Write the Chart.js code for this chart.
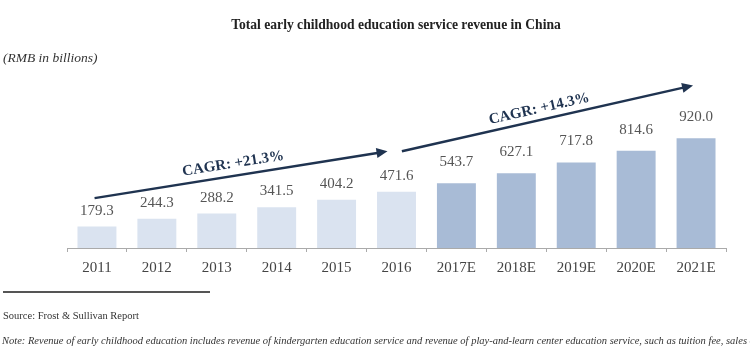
<!DOCTYPE html>
<html>
<head>
<meta charset="utf-8">
<script src="https://cdn.jsdelivr.net/npm/chart.js@4"></script>
<style>
  body { margin: 0; background: #fff; }
  #wrap { position: relative; width: 750px; height: 350px; overflow: hidden; font-family: "Liberation Serif", "DejaVu Serif", serif; }
  #chart { position: absolute; left: 0; top: 0; }
  .txt { position: absolute; white-space: nowrap; color: #222; }
  #title { left: 0; width: 792px; top: 17px; text-align: center; font-weight: bold; font-size: 13.6px; }
  #unit { left: 3px; top: 50px; font-style: italic; font-size: 13.5px; color: #333; }
  #rule { position: absolute; left: 3px; top: 291px; width: 207px; height: 2px; background: #555; }
  #source { left: 3px; top: 310px; font-size: 10.5px; color: #333; }
  #note { left: 2px; top: 335px; font-size: 10.5px; font-style: italic; color: #333; }
</style>
</head>
<body>
<div id="wrap">
  <canvas id="chart" width="750" height="350"></canvas>
  <div class="txt" id="title">Total early childhood education service revenue in China</div>
  <div class="txt" id="unit">(RMB in billions)</div>
  <div id="rule"></div>
  <div class="txt" id="source">Source: Frost &amp; Sullivan Report</div>
  <div class="txt" id="note">Note: Revenue of early childhood education includes revenue of kindergarten education service and revenue of play-and-learn center education service, such as tuition fee, sales of</div>
</div>
<script>
var years = ['2011', '2012', '2013', '2014', '2015', '2016', '2017E', '2018E', '2019E', '2020E', '2021E'];
var revenue = [179.3, 244.3, 288.2, 341.5, 404.2, 471.6, 543.7, 627.1, 717.8, 814.6, 920.0];
var cagrLabels = ['CAGR: +21.3%', 'CAGR: +14.3%'];

var histColor = '#dae3f0';
var estColor = '#a8bbd6';
var barColors = years.map(function(y) { return y.slice(-1) == 'E' ? estColor : histColor; });

// growth arrows, in category index / value units
var arrows = [
  { x0: -0.04, y0: 418, x1: 4.85, y1: 811, text: cagrLabels[0], lift: 12, shift: -6 },
  { x0: 5.09, y0: 811, x1: 9.95, y1: 1363, text: cagrLabels[1], lift: 11, shift: -6 }
];

var labelsPlugin = {
  id: 'valueLabels',
  afterDatasetsDraw: function(chart) {
    var ctx = chart.ctx;
    var meta = chart.getDatasetMeta(0);
    ctx.save();
    ctx.font = '15px "Liberation Serif", serif';
    ctx.fillStyle = '#555';
    ctx.textAlign = 'center';
    ctx.textBaseline = 'middle';
    meta.data.forEach(function(bar, i) {
      var gap = years[i].slice(-1) == 'E' ? 21 : 16;
      ctx.fillText(revenue[i].toFixed(1), bar.x, bar.y - gap);
    });
    ctx.restore();
  }
};

var arrowPlugin = {
  id: 'cagrArrows',
  afterDatasetsDraw: function(chart) {
    var ctx = chart.ctx;
    var xs = chart.scales.x, ys = chart.scales.y;
    ctx.save();
    arrows.forEach(function(a) {
      var x0 = xs.getPixelForValue(a.x0), y0 = ys.getPixelForValue(a.y0);
      var x1 = xs.getPixelForValue(a.x1), y1 = ys.getPixelForValue(a.y1);
      var ang = Math.atan2(y1 - y0, x1 - x0);
      var head = 11;
      ctx.strokeStyle = '#1f3350';
      ctx.fillStyle = '#1f3350';
      ctx.lineWidth = 2.5;
      ctx.beginPath();
      ctx.moveTo(x0, y0);
      ctx.lineTo(x1 - head * 0.8 * Math.cos(ang), y1 - head * 0.8 * Math.sin(ang));
      ctx.stroke();
      ctx.beginPath();
      ctx.moveTo(x1, y1);
      ctx.lineTo(x1 - head * Math.cos(ang) + 5 * Math.sin(ang), y1 - head * Math.sin(ang) - 5 * Math.cos(ang));
      ctx.lineTo(x1 - head * Math.cos(ang) - 5 * Math.sin(ang), y1 - head * Math.sin(ang) + 5 * Math.cos(ang));
      ctx.closePath();
      ctx.fill();

      var mx = (x0 + x1) / 2 + a.lift * Math.sin(ang) + a.shift * Math.cos(ang);
      var my = (y0 + y1) / 2 - a.lift * Math.cos(ang) + a.shift * Math.sin(ang);
      ctx.translate(mx, my);
      ctx.rotate(ang);
      ctx.font = 'bold 15px "Liberation Serif", serif';
      ctx.fillStyle = '#1f3350';
      ctx.textAlign = 'center';
      ctx.textBaseline = 'middle';
      ctx.fillText(a.text, 0, 0);
      ctx.setTransform(1, 0, 0, 1, 0, 0);
    });
    ctx.restore();
  }
};

new Chart(document.getElementById('chart').getContext('2d'), {
  type: 'bar',
  data: {
    labels: years,
    datasets: [{
      data: revenue,
      backgroundColor: barColors,
      barPercentage: 0.65,
      categoryPercentage: 1.0
    }]
  },
  options: {
    responsive: false,
    animation: false,
    layout: { padding: { left: 67, right: 24, top: 81, bottom: 66 } },
    plugins: { legend: { display: false }, tooltip: { enabled: false } },
    scales: {
      x: {
        grid: { display: true, drawOnChartArea: false, drawTicks: true, tickLength: 4, color: '#aaa' },
        border: { color: '#aaa', width: 1 },
        ticks: { font: { family: '"Liberation Serif", serif', size: 15 }, color: '#444', padding: 7 }
      },
      y: { display: false, min: 0, max: 1400 }
    }
  },
  plugins: [labelsPlugin, arrowPlugin]
});
</script>
</body>
</html>
